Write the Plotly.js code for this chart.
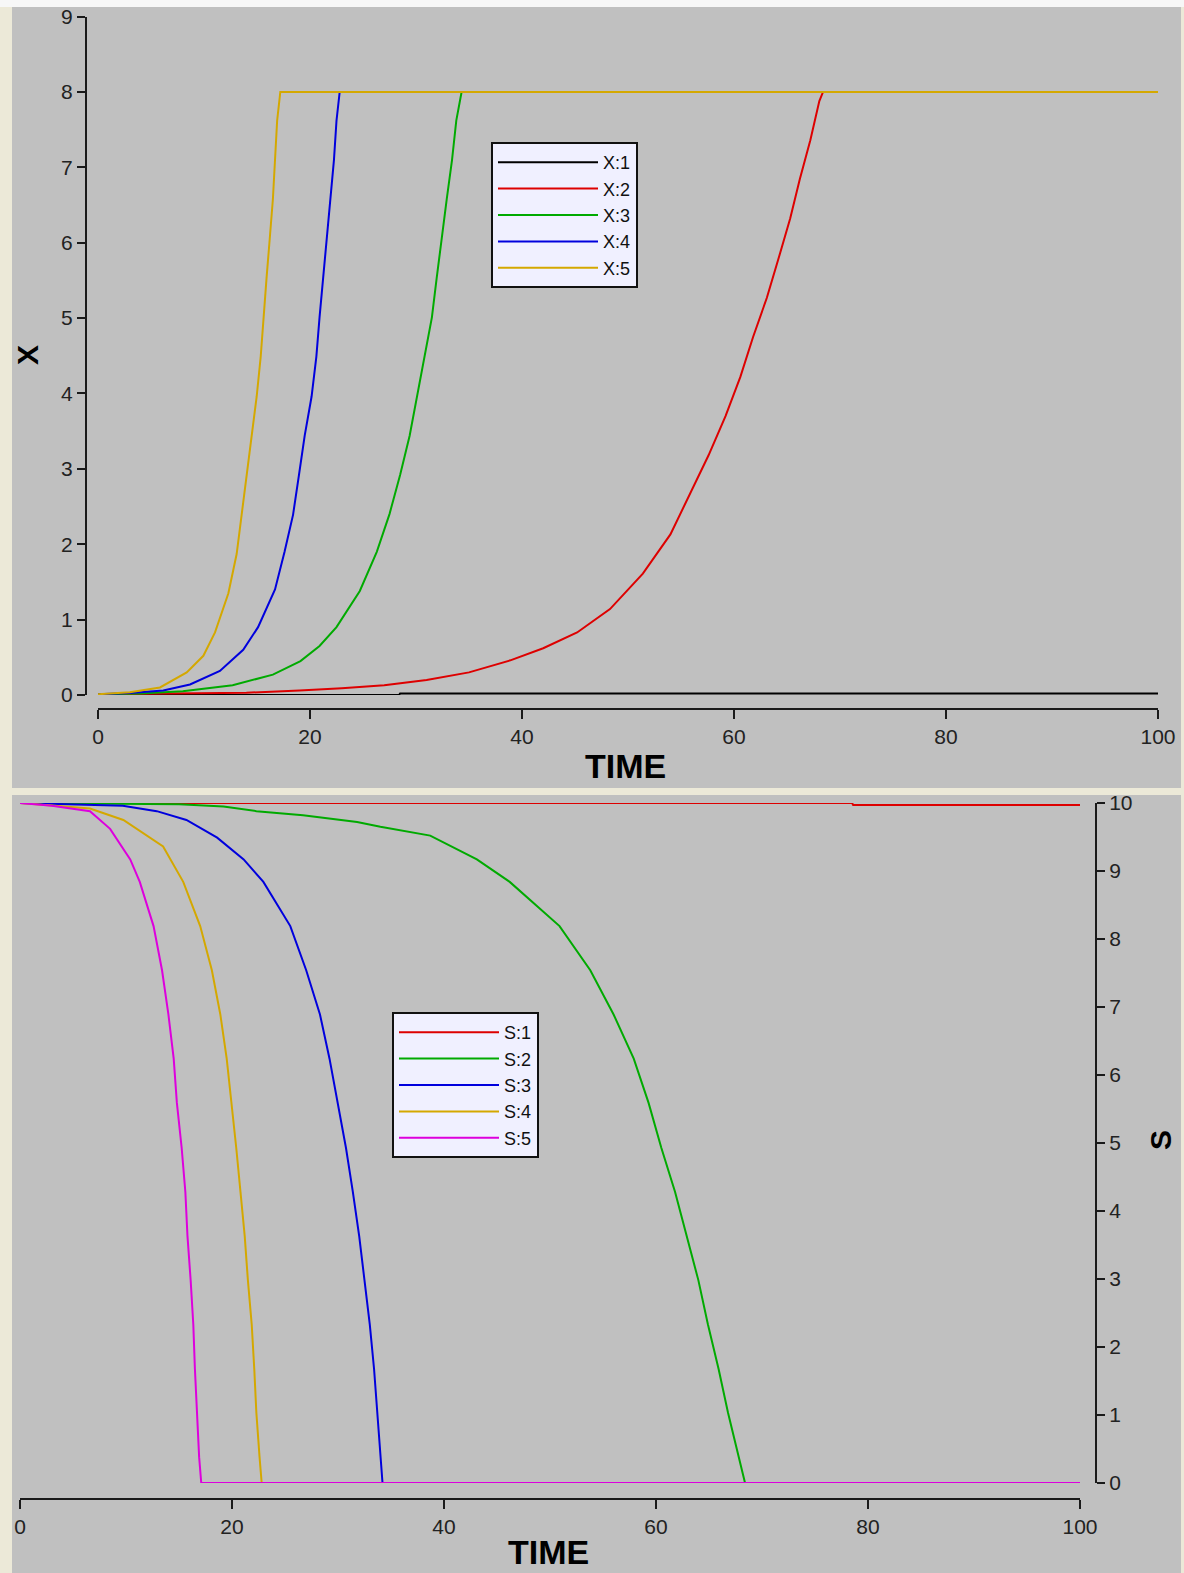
<!DOCTYPE html>
<html>
<head>
<meta charset="utf-8">
<script src="https://cdn.plot.ly/plotly-3.0.1.min.js"></script>
<style>
  html, body { margin: 0; padding: 0; background: #ECE9D8; }
  #chart { width: 1184px; height: 1573px; }
</style>
</head>
<body>
<div id="chart"></div>
<script>
// ---------- data ----------
const xTicks = [0, 20, 40, 60, 80, 100];
const xTickLabels = ['0', '20', '40', '60', '80', '100'];
const yTopTicks = [0, 1, 2, 3, 4, 5, 6, 7, 8, 9];
const yBotTicks = [0, 1, 2, 3, 4, 5, 6, 7, 8, 9, 10];

const seriesXNames = ['X:1', 'X:2', 'X:3', 'X:4', 'X:5'];
const seriesSNames = ['S:1', 'S:2', 'S:3', 'S:4', 'S:5'];

// X:1 (black)
const tX1 = [0, 28.4, 28.5, 100];
const vX1 = [0.0, 0.0, 0.02, 0.02];
// X:2 (red)
const tX2 = [0, 10, 14, 19, 23, 27, 31, 35, 38.9, 42, 45.2, 48.3, 51.4, 54, 55.8, 57.6, 59.2, 60.6, 61.8, 63.1, 64.2, 65.3, 66.2, 67.2, 68.05, 68.4, 100];
const vX2 = [0.01, 0.02, 0.03, 0.06, 0.09, 0.13, 0.2, 0.3, 0.46, 0.62, 0.83, 1.14, 1.61, 2.13, 2.66, 3.18, 3.70, 4.22, 4.75, 5.27, 5.79, 6.32, 6.84, 7.36, 7.88, 8, 8];
// X:3 (green)
const tX3 = [0, 4, 8, 12.7, 16.5, 19.1, 20.9, 22.5, 24.7, 26.3, 27.5, 28.5, 29.4, 30.1, 30.85, 31.5, 31.95, 32.4, 32.9, 33.4, 33.8, 34.3, 100];
const vX3 = [0.01, 0.02, 0.05, 0.13, 0.27, 0.45, 0.65, 0.9, 1.38, 1.9, 2.4, 2.92, 3.44, 3.96, 4.49, 5.01, 5.53, 6.05, 6.58, 7.1, 7.62, 8, 8];
// X:4 (blue)
const tX4 = [0, 3, 6.16, 8.68, 11.5, 13.7, 15.1, 16.7, 17.6, 18.4, 18.96, 19.5, 20.15, 20.6, 20.9, 21.25, 21.6, 21.95, 22.26, 22.5, 22.8, 100];
const vX4 = [0.01, 0.025, 0.06, 0.14, 0.32, 0.6, 0.9, 1.4, 1.9, 2.39, 2.92, 3.44, 3.96, 4.49, 5.01, 5.53, 6.05, 6.58, 7.1, 7.62, 8, 8];
// X:5 (gold)
const tX5 = [0, 3, 5.85, 8.37, 9.94, 11.04, 12.3, 13.08, 13.55, 14.03, 14.5, 14.97, 15.35, 15.66, 15.9, 16.2, 16.5, 16.7, 16.9, 17.2, 100];
const vX5 = [0.01, 0.035, 0.1, 0.3, 0.52, 0.83, 1.35, 1.87, 2.39, 2.92, 3.44, 3.96, 4.49, 5.01, 5.53, 6.05, 6.58, 7.1, 7.62, 8, 8];

// S:1 (red)
const tS1 = [0, 78.5, 78.6, 100];
const vS1 = [10, 10, 9.97, 9.97];
// S:2 (green)
const tS2 = [0, 15, 19.2, 22.3, 26.7, 31.8, 34, 38.7, 43.1, 46.2, 50.9, 53.8, 56, 57.9, 59.3, 60.5, 61.8, 62.9, 64, 64.9, 65.9, 66.8, 67.8, 68.4, 100];
const vS2 = [10, 9.98, 9.95, 9.88, 9.82, 9.72, 9.65, 9.52, 9.17, 8.84, 8.19, 7.54, 6.89, 6.24, 5.59, 4.93, 4.28, 3.63, 2.98, 2.33, 1.68, 1.03, 0.38, 0, 0];
// S:3 (blue)
const tS3 = [0, 9.7, 12.9, 15.7, 18.6, 21.1, 22.96, 25.5, 27.0, 28.3, 29.2, 30.0, 30.75, 31.4, 32.0, 32.5, 33.0, 33.4, 33.7, 34.0, 34.2, 100];
const vS3 = [10, 9.96, 9.88, 9.75, 9.49, 9.17, 8.84, 8.19, 7.54, 6.89, 6.24, 5.59, 4.93, 4.28, 3.63, 2.98, 2.33, 1.68, 1.03, 0.38, 0, 0];
// S:4 (gold)
const tS4 = [0, 6.6, 9.75, 13.5, 15.4, 17.0, 18.1, 18.9, 19.5, 19.97, 20.4, 20.8, 21.2, 21.5, 21.86, 22.1, 22.3, 22.6, 22.8, 100];
const vS4 = [10, 9.92, 9.75, 9.36, 8.84, 8.19, 7.54, 6.89, 6.24, 5.59, 4.93, 4.28, 3.63, 2.98, 2.33, 1.68, 1.03, 0.38, 0, 0];
// S:5 (magenta)
const tS5 = [0, 3, 6.6, 8.5, 10.4, 11.3, 12.6, 13.4, 14.0, 14.5, 14.8, 15.25, 15.6, 15.8, 16.1, 16.35, 16.5, 16.7, 16.9, 17.1, 100];
const vS5 = [10, 9.96, 9.88, 9.62, 9.17, 8.84, 8.19, 7.54, 6.89, 6.24, 5.59, 4.93, 4.28, 3.63, 2.98, 2.33, 1.68, 1.03, 0.38, 0, 0];

// ---------- styling ----------
const colX = ['#000000', '#DD0000', '#00AA00', '#0000DD', '#D4A800'];
const colS = ['#DD0000', '#00AA00', '#0000DD', '#D4A800', '#DD00DD'];
const FONT = 'Liberation Sans, Arial, sans-serif';
const AX = '#1a1a1a';
const W = 1184, H = 1573;
const fx = v => v / W;
const fy = v => 1 - v / H;

const topT = [tX1, tX2, tX3, tX4, tX5];
const topV = [vX1, vX2, vX3, vX4, vX5];
const botT = [tS1, tS2, tS3, tS4, tS5];
const botV = [vS1, vS2, vS3, vS4, vS5];

const traces = [];
for (let i = 0; i < 5; i++) {
  traces.push({
    x: topT[i], y: topV[i], type: 'scatter', mode: 'lines', name: seriesXNames[i],
    line: { color: colX[i], width: 2 }, xaxis: 'x', yaxis: 'y', legend: 'legend', hoverinfo: 'skip'
  });
}
for (let i = 0; i < 5; i++) {
  traces.push({
    x: botT[i], y: botV[i], type: 'scatter', mode: 'lines', name: seriesSNames[i],
    line: { color: colS[i], width: 2 }, xaxis: 'x2', yaxis: 'y2', legend: 'legend2', hoverinfo: 'skip'
  });
}

const tickFont = { family: FONT, size: 21, color: '#222' };
const axisCommon = {
  showgrid: false, zeroline: false, showline: true, linecolor: AX, linewidth: 2,
  ticks: 'outside', tickcolor: AX, tickwidth: 2, ticklen: 9, tickfont: tickFont,
  fixedrange: true
};

const legendCommon = {
  xanchor: 'left', yanchor: 'top', bgcolor: '#F0F0FF', bordercolor: '#111', borderwidth: 2,
  font: { family: FONT, size: 18, color: '#111' }, itemwidth: 100, traceorder: 'normal',
  tracegroupgap: 0, itemclick: false, itemdoubleclick: false
};

const layout = {
  width: W, height: H,
  margin: { l: 0, r: 0, t: 0, b: 0 },
  paper_bgcolor: '#ECE9D8',
  plot_bgcolor: 'rgba(0,0,0,0)',
  showlegend: true,
  xaxis: Object.assign({}, axisCommon, {
    domain: [fx(98), fx(1158)], range: [0, 100], anchor: 'free', position: fy(709),
    tickvals: xTicks, ticktext: xTickLabels
  }),
  yaxis: Object.assign({}, axisCommon, {
    domain: [fy(695), fy(16.6)], range: [0, 9], anchor: 'free', position: fx(86),
    tickvals: yTopTicks, ticklen: 8
  }),
  xaxis2: Object.assign({}, axisCommon, {
    domain: [fx(20), fx(1080)], range: [0, 100], anchor: 'free', position: fy(1499),
    tickvals: xTicks, ticktext: xTickLabels
  }),
  yaxis2: Object.assign({}, axisCommon, {
    domain: [fy(1483), fy(803)], range: [0, 10], anchor: 'free', position: fx(1096),
    side: 'right', tickvals: yBotTicks, ticklen: 8
  }),
  legend: Object.assign({}, legendCommon, { x: fx(491), y: fy(142) }),
  legend2: Object.assign({}, legendCommon, { x: fx(392), y: fy(1012) }),
  shapes: [
    { type: 'rect', xref: 'paper', yref: 'paper', x0: fx(12), x1: fx(1181), y0: fy(788), y1: fy(7),
      fillcolor: '#C0C0C0', line: { width: 0 }, layer: 'below' },
    { type: 'rect', xref: 'paper', yref: 'paper', x0: fx(12), x1: fx(1181), y0: fy(1573), y1: fy(795),
      fillcolor: '#C0C0C0', line: { width: 0 }, layer: 'below' },
    { type: 'rect', xref: 'paper', yref: 'paper', x0: 0, x1: 1, y0: fy(7), y1: 1,
      fillcolor: '#F7F7F7', line: { width: 0 }, layer: 'below' }
  ],
  annotations: [
    { text: '<b>TIME</b>', xref: 'paper', yref: 'paper', x: fx(625), y: fy(766), xanchor: 'center', yanchor: 'middle',
      showarrow: false, font: { family: FONT, size: 34, color: '#000' } },
    { text: '<b>TIME</b>', xref: 'paper', yref: 'paper', x: fx(548), y: fy(1552), xanchor: 'center', yanchor: 'middle',
      showarrow: false, font: { family: FONT, size: 34, color: '#000' } },
    { text: '<b>X</b>', xref: 'paper', yref: 'paper', x: fx(27), y: fy(355), xanchor: 'center', yanchor: 'middle',
      showarrow: false, textangle: -90, font: { family: FONT, size: 30, color: '#000' } },
    { text: '<b>S</b>', xref: 'paper', yref: 'paper', x: fx(1160), y: fy(1140), xanchor: 'center', yanchor: 'middle',
      showarrow: false, textangle: -90, font: { family: FONT, size: 30, color: '#000' } }
  ]
};

Plotly.newPlot('chart', traces, layout, { staticPlot: true, displayModeBar: false });
</script>
</body>
</html>
